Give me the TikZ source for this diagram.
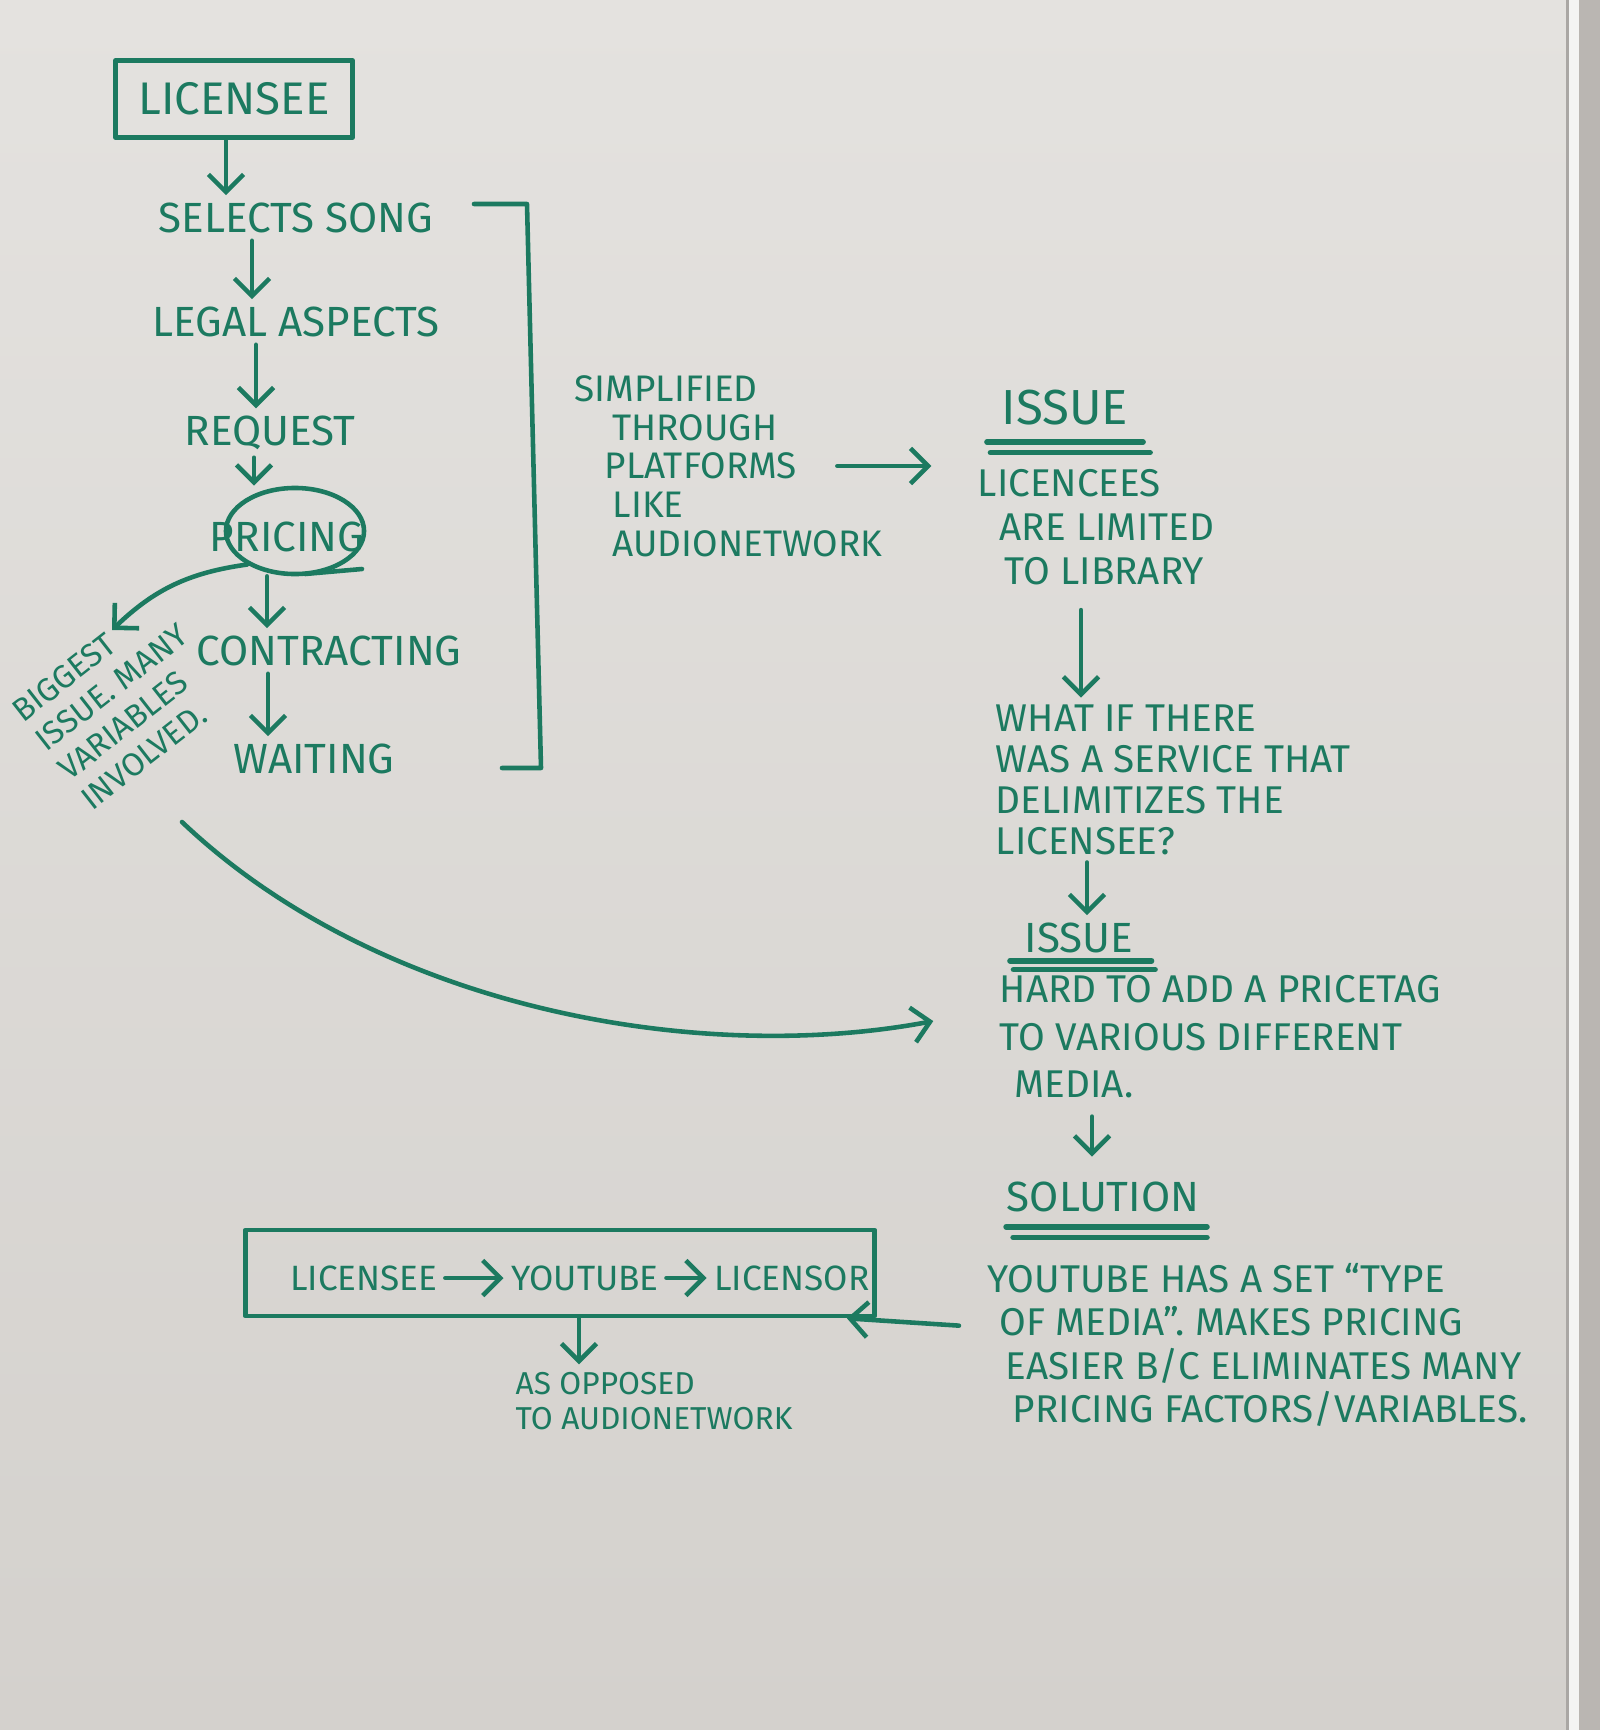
\documentclass[tikz,border=0pt]{standalone}
\usepackage{fontspec}
\setmainfont{Fira Sans}
\usetikzlibrary{arrows.meta, positioning, shapes.geometric}
\definecolor{marker}{RGB}{28,122,96}
\definecolor{board}{RGB}{212,209,205}
\definecolor{boardtop}{RGB}{228,226,223}
\definecolor{frame}{RGB}{186,182,178}
\tikzset{
  ink/.style={draw=marker, line width=1.3pt, line cap=round, line join=round},
  flow/.style={ink, -{Straight Barb[length=5pt,width=10pt]}},
  lbl/.style={text=marker, inner sep=2pt, font=\fontsize{12}{14}\selectfont},
  note/.style={text=marker, inner sep=2pt, align=left, font=\fontsize{11}{12.5}\selectfont},
  head/.style={text=marker, inner sep=2pt, font=\fontsize{14}{16}\selectfont},
  dbl/.style={ink, line width=1.6pt},
}

\begin{document}
\begin{tikzpicture}[x=0.01cm, y=-0.01cm]
            \shade[top color=boardtop, bottom color=board] (0,0) rectangle (1600,1730); %board
            \useasboundingbox (0,0) rectangle (1600,1730);
            \fill[board!80!black] (1566,0) rectangle (1569,1730); %frame edge
            \fill[white!75!board] (1569,0) rectangle (1579,1730);
            \fill[frame] (1579,0) rectangle (1600,1730);
            % left column
            \node[lbl, ink, font=\fontsize{13}{15}\selectfont, minimum width=2.37cm, minimum height=0.77cm] (licensee) at (234,99) {LICENSEE};
            \node[lbl] (selects) at (296,218) {SELECTS SONG};
            \node[lbl] (legal) at (296,322) {LEGAL ASPECTS};
            \node[lbl] (request) at (270,433) {REQUEST};
            \node[lbl] (pricing) at (287,537) {PRICING};
            \node[ink, ellipse, minimum width=1.38cm, minimum height=0.86cm] (ring) at (295,531) {};
            \node[lbl] (contract) at (329,651) {CONTRACTING};
            \node[lbl] (waiting) at (314,759) {WAITING};
            \node[note, rotate=38, font=\fontsize{9.2}{10.6}\selectfont] (biggest) at (123,702) {BIGGEST\\ISSUE. MANY\\VARIABLES\\INVOLVED.};
            \coordinate (bigtip) at (112,630);
            \draw[flow] (licensee.south -| 226,0) -- (selects.north -| 226,0);
            \draw[flow] (selects.south -| 252,0) -- (legal.north -| 252,0);
            \draw[flow] (legal.south -| 256,0) -- (request.north -| 256,0);
            \draw[flow] (request.south -| 254,0) -- (ring.north -| 254,0);
            \draw[flow] (ring.south -| 267,0) -- (contract.north -| 267,0);
            \draw[flow] (contract.south -| 268,0) -- (waiting.north -| 268,0);
            \draw[ink] (305,574) -- (362,569); %loop tail
            \draw[flow] (ring.215) to[bend right=18] (bigtip);
            \draw[ink] (474,204) -- (527,204) -- (541,768) -- (502,768); %bracket
            % middle and right column
            \node[note, anchor=west, font=\fontsize{10.5}{11}\selectfont] (simplified) at (567,466) {SIMPLIFIED\\\hspace*{3.8mm}THROUGH\\\hspace*{3mm}PLATFORMS\\\hspace*{3.8mm}LIKE\\\hspace*{3.8mm}AUDIONETWORK};
            \node[head] (issue1) at (1065,408) {ISSUE};
            \draw[dbl] ([xshift=-2pt,yshift=-2.5pt]issue1.south west) -- ([xshift=2pt,yshift=-2.5pt]issue1.south east);
            \draw[dbl] ([xshift=-1pt,yshift=-5.5pt]issue1.south west) -- ([xshift=4pt,yshift=-5.5pt]issue1.south east);
            \node[note] (limited) [anchor=west] at (970,527) {LICENCEES\\\hspace*{2.2mm}ARE LIMITED\\\hspace*{2.7mm}TO LIBRARY};
            \draw[flow, shorten <=-15pt, shorten >=11pt] (simplified.east |- 0,466) -- (limited.west |- 0,466);
            \node[note, anchor=west, font=\fontsize{11}{11.6}\selectfont] (whatif) at (988,780) {WHAT IF THERE\\WAS A SERVICE THAT\\DELIMITIZES THE\\LICENSEE?};
            \draw[flow, shorten <=5pt] (limited.south -| 1081,0) -- (whatif.north -| 1081,0);
            \node[lbl] (issue2) at (1079,938) {ISSUE};
            \draw[dbl] ([xshift=-2pt,yshift=0pt]issue2.south west) -- ([xshift=3pt,yshift=0pt]issue2.south east);
            \draw[dbl] ([xshift=-1pt,yshift=-2.5pt]issue2.south west) -- ([xshift=4pt,yshift=-2.5pt]issue2.south east);
            \draw[flow] (whatif.south -| 1087,0) -- (issue2.north -| 1087,0);
            \node[note, anchor=west, font=\fontsize{11}{13.5}\selectfont] (hardto) at (992,1037) {HARD TO ADD A PRICETAG\\TO VARIOUS DIFFERENT\\\hspace*{1.5mm}MEDIA.};
            \node[lbl] (solution) at (1103,1197) {SOLUTION};
            \draw[dbl] ([xshift=2pt,yshift=-2pt]solution.south west) -- ([xshift=0pt,yshift=-2pt]solution.south east);
            \draw[dbl] ([xshift=4pt,yshift=-5pt]solution.south west) -- ([xshift=0pt,yshift=-5pt]solution.south east);
            \draw[flow, shorten <=3pt, shorten >=5pt] (hardto.south -| 1092,0) -- (solution.north -| 1092,0);
            \node[note, anchor=west, font=\fontsize{11}{12.3}\selectfont] (youtube) at (980,1345) {YOUTUBE HAS A SET “TYPE\\\hspace*{1.2mm}OF MEDIA”. MAKES PRICING\\\hspace*{1.8mm}EASIER B/C ELIMINATES MANY\\\hspace*{2.5mm}PRICING FACTORS/VARIABLES.};
            % bottom chain
            \node[ink, minimum width=6.29cm, minimum height=0.86cm] (chain) at (560,1273) {};
            \node[lbl, font=\fontsize{10}{12}\selectfont] (chainlee) at (364,1278) {LICENSEE};
            \node[lbl, font=\fontsize{10}{12}\selectfont] (chainyt) at (585,1278) {YOUTUBE};
            \node[lbl, font=\fontsize{10}{12}\selectfont] (chainlor) at (792,1278) {LICENSOR};
            \draw[flow] (chainlee) -- (chainyt);
            \draw[flow] (chainyt) -- (chainlor);
            \node[note, anchor=west, font=\fontsize{9}{10}\selectfont] (opposed) at (508,1401) {AS OPPOSED\\TO AUDIONETWORK};
            \draw[flow] (chain.south -| 579,0) -- (opposed.north -| 579,0);
            \draw[flow, shorten <=6pt] (youtube.west |- 0,1327) -- ([xshift=-0.3cm]chain.south east);
            % long swoop
            \coordinate (swoop) at (182,822);
            \draw[flow, shorten >=17pt] (swoop) .. controls (380,1010) and (700,1065) .. (hardto.west |- 0,1010);
\end{tikzpicture}
\end{document}
